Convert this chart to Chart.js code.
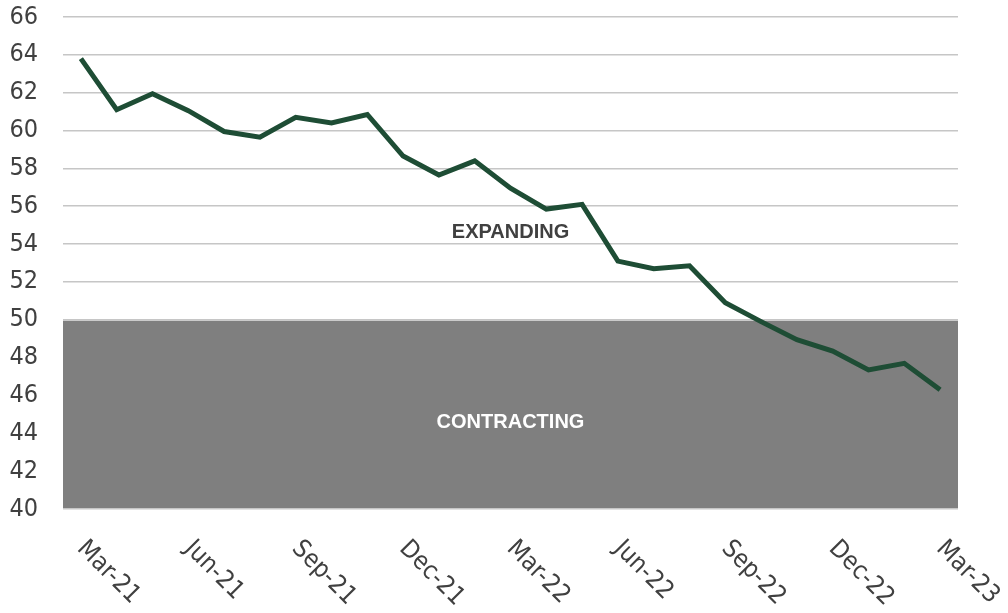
<!DOCTYPE html>
<html>
<head>
<meta charset="utf-8">
<script src="https://cdn.jsdelivr.net/npm/chart.js@4/dist/chart.umd.min.js"></script>
<style>
    html, body { margin: 0; padding: 0; background: #ffffff; }
    #wrap { width: 1008px; height: 613px; }
</style>
</head>
<body>
<div id="wrap"><canvas id="pmiChart" width="1008" height="613"></canvas></div>
<script>
// Data
const months = ['Mar-21', 'Apr-21', 'May-21', 'Jun-21', 'Jul-21', 'Aug-21', 'Sep-21', 'Oct-21', 'Nov-21',
    'Dec-21', 'Jan-22', 'Feb-22', 'Mar-22', 'Apr-22', 'May-22', 'Jun-22', 'Jul-22', 'Aug-22',
    'Sep-22', 'Oct-22', 'Nov-22', 'Dec-22', 'Jan-23', 'Feb-23', 'Mar-23'];
const indexValues = [63.8, 61.1, 61.95, 61.05, 59.95, 59.65, 60.7, 60.4, 60.85,
    58.65, 57.65, 58.4, 56.95, 55.85, 56.1, 53.1, 52.7, 52.85,
    50.9, 49.9, 48.95, 48.35, 47.35, 47.7, 46.3];
const yTicks = [40, 42, 44, 46, 48, 50, 52, 54, 56, 58, 60, 62, 64, 66];
const threshold = 50;
const zoneLabels = [
    { text: 'EXPANDING', value: 54.6, color: '#404040' },
    { text: 'CONTRACTING', value: 44.55, color: '#ffffff' }
];

const tickFamily = '"Liberation Sans Narrow", "DejaVu Sans Condensed", "Liberation Sans", sans-serif';

// Gray contracting zone, drawn above the grid but under the line
const zonePlugin = {
    id: 'zone',
    beforeDatasetsDraw(chart) {
        const { ctx, chartArea, scales } = chart;
        const yTop = scales.y.getPixelForValue(threshold);
        const yBottom = scales.y.getPixelForValue(yTicks[0]);
        ctx.save();
        ctx.fillStyle = '#7f7f7f';
        ctx.fillRect(chartArea.left, yTop + 1, chartArea.right - chartArea.left, yBottom - yTop - 2);

        ctx.font = 'bold 20px "Liberation Sans", Arial, sans-serif';
        ctx.textAlign = 'center';
        ctx.textBaseline = 'middle';
        const cx = (chartArea.left + chartArea.right) / 2;
        zoneLabels.forEach(z => {
            ctx.fillStyle = z.color;
            ctx.fillText(z.text, cx, scales.y.getPixelForValue(z.value));
        });
        ctx.restore();
    }
};

// Quarterly x labels, rotated down to the right
const xLabelPlugin = {
    id: 'xLabels',
    afterDraw(chart) {
        const { ctx, chartArea, scales } = chart;
        ctx.save();
        ctx.font = '25px ' + tickFamily;
        ctx.fillStyle = '#404040';
        ctx.textAlign = 'left';
        ctx.textBaseline = 'middle';
        months.forEach((m, i) => {
            if (i % 3 !== 0) return;
            const x = scales.x.getPixelForValue(i);
            ctx.save();
            ctx.translate(x, chartArea.bottom + 36);
            ctx.rotate(Math.PI / 4);
            ctx.fillText(m, 0, 0);
            ctx.restore();
        });
        ctx.restore();
    }
};

const ctx = document.getElementById('pmiChart').getContext('2d');

new Chart(ctx, {
    type: 'line',
    data: {
        labels: months,
        datasets: [{
            data: indexValues,
            borderColor: '#1e4d35',
            borderWidth: 5,
            pointRadius: 0,
            tension: 0,
            fill: false
        }]
    },
    options: {
        responsive: false,
        animation: false,
        layout: { padding: { top: 17, right: 50, left: 0, bottom: 0 } },
        plugins: {
            legend: { display: false },
            tooltip: { enabled: false }
        },
        scales: {
            x: {
                offset: true,
                grid: { display: false },
                border: { display: false },
                ticks: { display: false },
                afterFit(scale) {
                    scale.height = 104;
                    scale.paddingLeft = 0;
                    scale.paddingRight = 0;
                }
            },
            y: {
                min: yTicks[0],
                max: yTicks[yTicks.length - 1],
                afterBuildTicks(scale) { scale.ticks = yTicks.map(v => ({ value: v })); },
                afterFit(scale) {
                    scale.width = 63;
                    scale.paddingTop = 0;
                    scale.paddingBottom = 0;
                },
                grid: { color: '#c6c6c6', lineWidth: 1.5, drawTicks: false },
                border: { display: false },
                ticks: {
                    padding: 25,
                    color: '#404040',
                    font: { family: tickFamily, size: 25 }
                }
            }
        }
    },
    plugins: [zonePlugin, xLabelPlugin]
});
</script>
</body>
</html>
